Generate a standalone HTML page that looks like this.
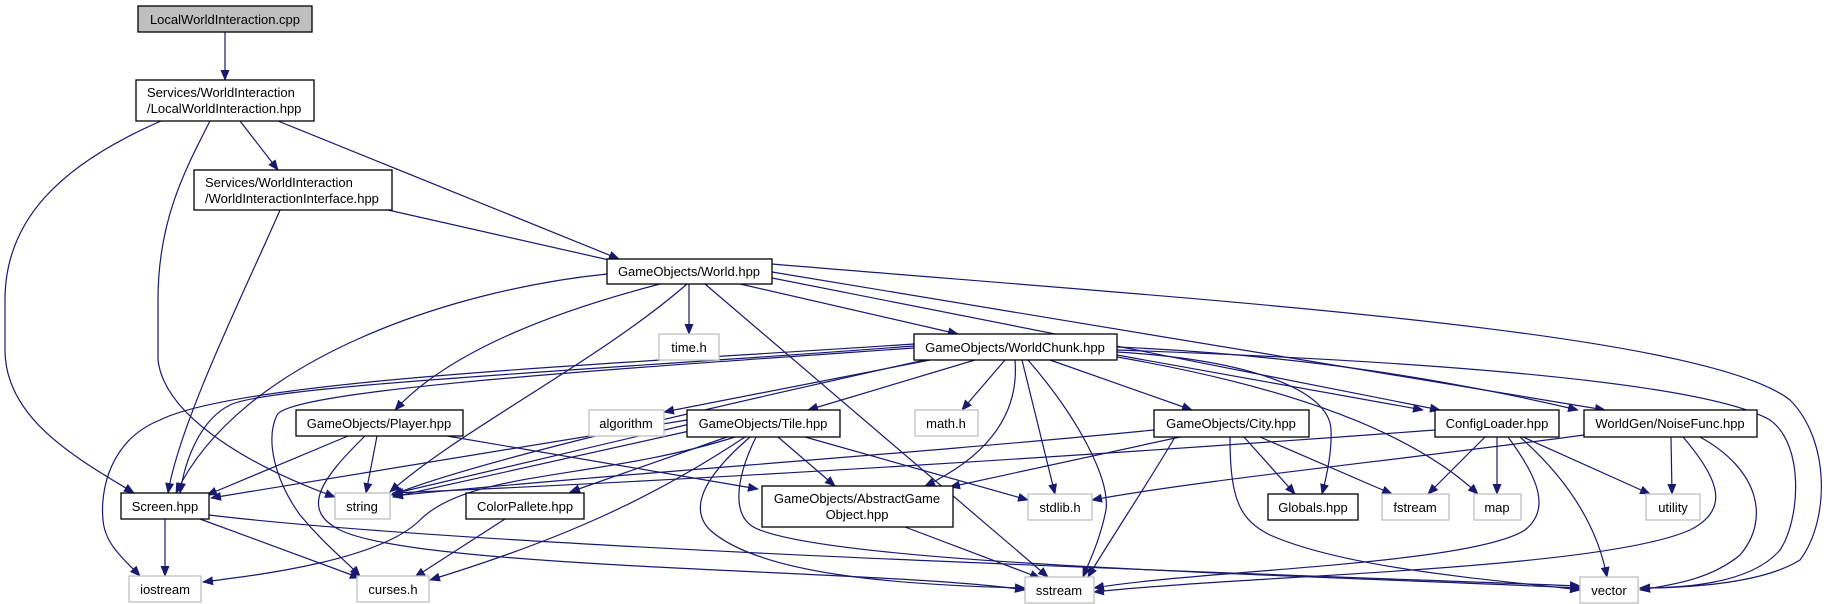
<!DOCTYPE html>
<html><head><meta charset="utf-8"><style>
html,body{margin:0;padding:0;background:#fff;}
svg{display:block;}
text{font-family:"Liberation Sans",Arial,sans-serif;font-size:13px;fill:#000;}
.e{fill:none;stroke:#191970;stroke-width:1.2;marker-end:url(#a);}
.d{fill:#fff;stroke:#000;stroke-width:1.3;}
.g{fill:#fff;stroke:#bfbfbf;stroke-width:1.3;}
</style></head><body>
<svg width="1835" height="604" viewBox="0 0 1835 604" xmlns="http://www.w3.org/2000/svg">
<defs><marker id="a" markerWidth="11" markerHeight="9" refX="10" refY="4.5" orient="auto" markerUnits="userSpaceOnUse"><path d="M0,0 L11,4.5 L0,9 Z" fill="#191970"/></marker></defs>
<!-- edges -->
<path class="e" d="M225,32 L225,80"/>
<path class="e" d="M161,121 C60,165 5,220 5,300 L5,350 C5,420 80,460 134,493"/>
<path class="e" d="M210,121 C185,170 158,220 158,300 L158,360 C165,420 260,470 335,497"/>
<path class="e" d="M240,121 L278,170"/>
<path class="e" d="M278,121 L619,259"/>
<path class="e" d="M280,210 C250,280 180,420 168,493"/>
<path class="e" d="M388,210 L618,262"/>
<path class="e" d="M607,274 C450,290 240,360 176,493"/>
<path class="e" d="M660,284 C560,310 450,350 395,410"/>
<path class="e" d="M687,284 C600,360 460,430 390,492"/>
<path class="e" d="M689,284 L689,334"/>
<path class="e" d="M705,284 L1048,577"/>
<path class="e" d="M740,284 L958,334"/>
<path class="e" d="M772,278 L1440,410"/>
<path class="e" d="M772,272 L1605,410"/>
<path class="e" d="M772,264 C1200,300 1700,330 1790,400 C1830,440 1830,520 1800,560 C1760,585 1680,588 1640,588"/>
<path class="e" d="M914,344 C600,365 240,380 160,420 C110,440 100,490 103,520 C105,545 125,560 140,576"/>
<path class="e" d="M914,346 C600,370 270,385 230,405 C200,420 185,460 180,493"/>
<path class="e" d="M914,348 C600,370 290,390 277,415 C265,440 275,480 300,515 C325,545 345,560 360,576"/>
<path class="e" d="M925,360 C700,410 480,460 392,495"/>
<path class="e" d="M930,360 L664,412"/>
<path class="e" d="M975,360 L808,410"/>
<path class="e" d="M1005,360 L962,410"/>
<path class="e" d="M1015,360 C1020,420 980,460 925,486"/>
<path class="e" d="M1022,360 L1055,494"/>
<path class="e" d="M1028,360 C1080,420 1110,480 1106,510 C1100,540 1090,560 1083,577"/>
<path class="e" d="M1050,360 L1192,410"/>
<path class="e" d="M1117,355 L1423,410"/>
<path class="e" d="M1117,347 C1300,355 1450,380 1578,410"/>
<path class="e" d="M1117,352 C1250,360 1330,390 1331,430 C1332,450 1327,475 1322,494"/>
<path class="e" d="M1117,357 C1250,380 1400,420 1478,494"/>
<path class="e" d="M1117,350 C1400,360 1700,380 1770,420 C1805,445 1800,520 1780,550 C1750,585 1680,588 1640,588"/>
<path class="e" d="M348,436 L207,495"/>
<path class="e" d="M377,436 L366,493"/>
<path class="e" d="M365,436 C320,480 300,510 340,530 C420,570 900,570 1025,590"/>
<path class="e" d="M447,436 L758,489"/>
<path class="e" d="M687,420 L211,498"/>
<path class="e" d="M690,424 L392,494"/>
<path class="e" d="M694,430 L393,497"/>
<path class="e" d="M735,437 C600,480 470,470 420,520 C380,560 260,575 203,582"/>
<path class="e" d="M727,437 L570,492"/>
<path class="e" d="M745,437 C650,500 560,540 430,580"/>
<path class="e" d="M778,437 L835,486"/>
<path class="e" d="M805,437 L1028,500"/>
<path class="e" d="M750,437 C700,480 690,510 710,530 C760,575 900,585 1025,588"/>
<path class="e" d="M756,437 C735,480 730,520 760,530 C850,565 1300,575 1580,588"/>
<path class="e" d="M1154,430 C900,455 600,475 393,496"/>
<path class="e" d="M1180,437 L950,487"/>
<path class="e" d="M1175,437 C1150,480 1110,540 1088,577"/>
<path class="e" d="M1244,437 L1295,494"/>
<path class="e" d="M1260,437 L1392,494"/>
<path class="e" d="M1230,437 C1230,500 1240,520 1270,535 C1350,570 1500,580 1580,590"/>
<path class="e" d="M1435,430 C1100,455 700,480 393,493"/>
<path class="e" d="M1485,437 L1428,494"/>
<path class="e" d="M1497,437 L1497,494"/>
<path class="e" d="M1508,437 C1540,480 1550,510 1525,530 C1470,565 1200,570 1094,588"/>
<path class="e" d="M1520,437 C1580,490 1600,540 1607,577"/>
<path class="e" d="M1523,437 L1650,494"/>
<path class="e" d="M1584,435 C1400,460 1200,480 1092,500"/>
<path class="e" d="M1671,437 L1672,494"/>
<path class="e" d="M1683,437 C1720,480 1730,510 1690,530 C1600,570 1250,575 1094,592"/>
<path class="e" d="M1700,437 C1760,470 1770,520 1740,555 C1710,580 1670,585 1640,590"/>
<path class="e" d="M165,519 L165,576"/>
<path class="e" d="M200,519 L360,578"/>
<path class="e" d="M209,515 C500,550 1300,575 1580,586"/>
<path class="e" d="M505,519 L415,577"/>
<path class="e" d="M905,527 L1040,578"/>
<!-- nodes -->
<rect x="138" y="6" width="174" height="26" fill="#bfbfbf" stroke="#000" stroke-width="1.3"/>
<text x="225" y="24" text-anchor="middle">LocalWorldInteraction.cpp</text>
<rect class="d" x="136" y="80" width="178" height="41"/>
<text x="147" y="97">Services/WorldInteraction</text><text x="147" y="113">/LocalWorldInteraction.hpp</text>
<rect class="d" x="194" y="170" width="198" height="40"/>
<text x="205" y="187">Services/WorldInteraction</text><text x="205" y="203">/WorldInteractionInterface.hpp</text>
<rect class="d" x="607" y="259" width="165" height="25"/>
<text x="689" y="276" text-anchor="middle">GameObjects/World.hpp</text>
<rect class="g" x="659" y="334" width="60" height="26"/><text x="689" y="352" text-anchor="middle">time.h</text>
<rect class="d" x="914" y="334" width="203" height="26"/><text x="1015" y="352" text-anchor="middle">GameObjects/WorldChunk.hpp</text>
<rect class="d" x="296" y="410" width="167" height="26"/><text x="379" y="428" text-anchor="middle">GameObjects/Player.hpp</text>
<rect class="g" x="589" y="410" width="75" height="26"/><text x="626" y="428" text-anchor="middle">algorithm</text>
<rect class="d" x="687" y="410" width="153" height="27"/><text x="763" y="428" text-anchor="middle">GameObjects/Tile.hpp</text>
<rect class="g" x="915" y="410" width="63" height="26"/><text x="946" y="428" text-anchor="middle">math.h</text>
<rect class="d" x="1154" y="410" width="155" height="27"/><text x="1231" y="428" text-anchor="middle">GameObjects/City.hpp</text>
<rect class="d" x="1435" y="410" width="124" height="27"/><text x="1497" y="428" text-anchor="middle">ConfigLoader.hpp</text>
<rect class="d" x="1584" y="410" width="173" height="27"/><text x="1670" y="428" text-anchor="middle">WorldGen/NoiseFunc.hpp</text>
<rect class="d" x="121" y="493" width="88" height="26"/><text x="165" y="511" text-anchor="middle">Screen.hpp</text>
<rect class="g" x="335" y="493" width="55" height="26"/><text x="362" y="511" text-anchor="middle">string</text>
<rect class="d" x="466" y="493" width="118" height="26"/><text x="525" y="511" text-anchor="middle">ColorPallete.hpp</text>
<rect class="d" x="762" y="486" width="191" height="41"/>
<text x="857" y="503" text-anchor="middle">GameObjects/AbstractGame</text><text x="857" y="519" text-anchor="middle">Object.hpp</text>
<rect class="g" x="1028" y="494" width="64" height="26"/><text x="1060" y="512" text-anchor="middle">stdlib.h</text>
<rect class="d" x="1268" y="494" width="90" height="26"/><text x="1313" y="512" text-anchor="middle">Globals.hpp</text>
<rect class="g" x="1382" y="494" width="67" height="26"/><text x="1415" y="512" text-anchor="middle">fstream</text>
<rect class="g" x="1474" y="494" width="47" height="26"/><text x="1497" y="512" text-anchor="middle">map</text>
<rect class="g" x="1646" y="494" width="54" height="26"/><text x="1673" y="512" text-anchor="middle">utility</text>
<rect class="g" x="129" y="576" width="72" height="26"/><text x="165" y="594" text-anchor="middle">iostream</text>
<rect class="g" x="357" y="576" width="72" height="26"/><text x="393" y="594" text-anchor="middle">curses.h</text>
<rect class="g" x="1025" y="577" width="69" height="26"/><text x="1059" y="595" text-anchor="middle">sstream</text>
<rect class="g" x="1580" y="577" width="58" height="26"/><text x="1609" y="595" text-anchor="middle">vector</text>
</svg>
</body></html>
